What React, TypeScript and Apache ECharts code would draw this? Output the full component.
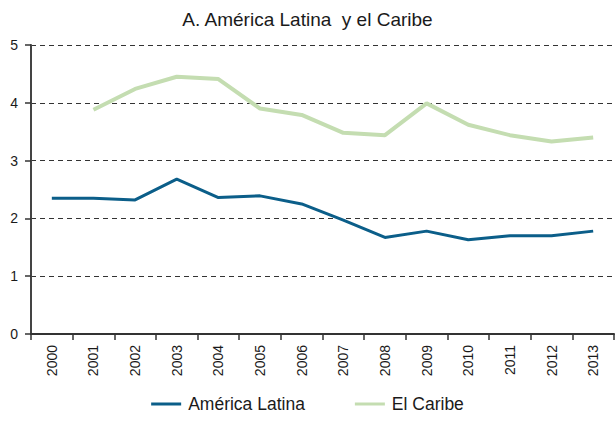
import React, { useEffect, useRef } from "react";
import * as echarts from "echarts";

const years = ["2000","2001","2002","2003","2004","2005","2006","2007","2008","2009","2010","2011","2012","2013"];
const americaLatina = [2.35, 2.35, 2.32, 2.68, 2.36, 2.39, 2.25, 1.97, 1.67, 1.78, 1.63, 1.70, 1.70, 1.78];
const elCaribe = [null, 3.88, 4.24, 4.45, 4.41, 3.90, 3.79, 3.48, 3.44, 3.99, 3.62, 3.44, 3.33, 3.40];
const titleText = "A. América Latina  y el Caribe";

export default function App() {
  const ref = useRef<HTMLDivElement>(null);
  useEffect(() => {
    const chart = echarts.init(ref.current!, null, { renderer: "svg" });
    const font = "Liberation Sans, Arial, sans-serif";
    chart.setOption({
      animation: false,
      title: {
        text: titleText,
        left: "center",
        top: 5,
        textStyle: { fontFamily: font, fontSize: 19, fontWeight: "normal", color: "#1a1a1a" },
      },
      legend: {
        bottom: 3,
        left: "center",
        itemWidth: 30,
        itemHeight: 3,
        itemGap: 50,
        icon: "rect",
        textStyle: { fontFamily: font, fontSize: 17.5, color: "#1a1a1a", padding: [0, 0, 0, 2] },
        data: ["América Latina", "El Caribe"],
      },
      grid: { left: 31, right: 1, top: 45, bottom: 87 },
      xAxis: {
        type: "category",
        data: years,
        boundaryGap: true,
        axisLine: { lineStyle: { color: "#333", width: 2 } },
        axisTick: { show: true, length: 6, lineStyle: { color: "#333", width: 1.5 } },
        axisLabel: { rotate: 90, fontFamily: font, fontSize: 14, color: "#1a1a1a", margin: 11 },
      },
      yAxis: {
        type: "value",
        min: 0,
        max: 5,
        interval: 1,
        axisLine: { show: true, lineStyle: { color: "#444", width: 2 } },
        axisTick: { show: true, length: 6, lineStyle: { color: "#333", width: 1.5 } },
        axisLabel: { fontFamily: font, fontSize: 14, color: "#1a1a1a", margin: 13 },
        splitLine: { show: true, lineStyle: { type: [5, 4], color: "#333", width: 1 } },
      },
      series: [
        {
          name: "América Latina",
          type: "line",
          data: americaLatina,
          symbol: "none",
          lineStyle: { color: "#0b5e89", width: 3 },
          itemStyle: { color: "#0b5e89" },
        },
        {
          name: "El Caribe",
          type: "line",
          data: elCaribe,
          symbol: "none",
          lineStyle: { color: "#c4ddb1", width: 4 },
          itemStyle: { color: "#c4ddb1" },
        },
      ],
    });
    return () => chart.dispose();
  }, []);
  return <div ref={ref} style={{ width: 615, height: 421, position: "absolute", left: 0, top: 0 }} />;
}
